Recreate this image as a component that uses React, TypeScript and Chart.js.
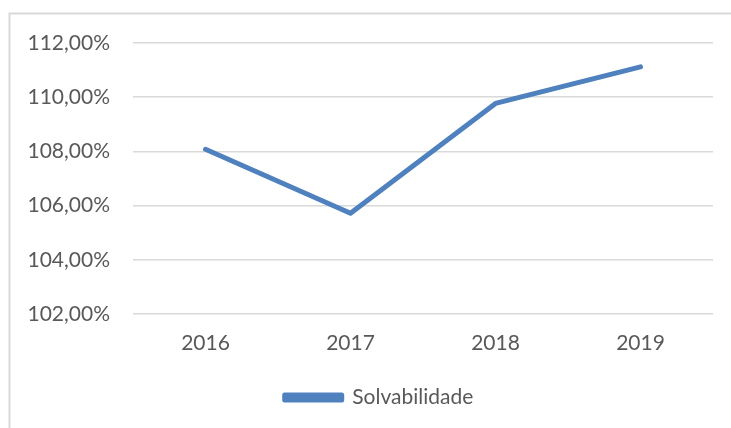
import React, { useEffect, useRef } from "react";
import { Chart, registerables } from "chart.js";

Chart.register(...registerables);

const categories = ["2016", "2017", "2018", "2019"];
const seriesName = "Solvabilidade";
const seriesValues = [108.08, 105.72, 109.77, 111.12];
const yMin = 102;
const yMax = 112;
const yStep = 2;

const FONT = "Lato, 'Liberation Sans', sans-serif";
const TEXT = "#595959";
const GRID = "#d9d9d9";
const LINE = "#4E81BD";

const frame = {
  id: "frame",
  beforeDraw(chart: any) {
    const ctx = chart.ctx;
    ctx.save();
    ctx.fillStyle = "#ffffff";
    ctx.fillRect(0, 0, chart.width, chart.height);
    ctx.strokeStyle = GRID;
    ctx.lineWidth = 2;
    ctx.beginPath();
    ctx.moveTo(9.5, chart.height);
    ctx.lineTo(9.5, 13.5);
    ctx.lineTo(chart.width, 13.5);
    ctx.stroke();
    ctx.restore();
  },
};

const legendShift = {
  id: "legendShift",
  afterLayout(chart: any) {
    const lg = chart.legend;
    if (lg) {
      lg.left += 45;
    }
  },
};

export default function App() {
  const ref = useRef<HTMLCanvasElement | null>(null);
  useEffect(() => {
    if (!ref.current) return;
    const chart = new Chart(ref.current, {
      type: "line",
      data: {
        labels: categories,
        datasets: [
          {
            label: seriesName,
            data: seriesValues,
            borderColor: LINE,
            backgroundColor: LINE,
            borderWidth: 5,
            borderCapStyle: "round",
            borderJoinStyle: "round",
            pointRadius: 0,
            tension: 0,
          },
        ],
      },
      options: {
        animation: false,
        responsive: false,
        layout: { padding: { left: 0, right: 18, top: 43, bottom: 10 } },
        plugins: {
          tooltip: { enabled: false },
          legend: {
            position: "bottom",
            labels: {
              boxWidth: 57,
              boxHeight: 5,
              padding: 13,
              color: TEXT,
              font: { family: FONT, size: 21 },
            },
          },
        },
        scales: {
          x: {
            offset: true,
            grid: { display: false },
            border: { display: false },
            ticks: { color: TEXT, padding: 9, font: { family: FONT, size: 21 }, maxRotation: 0 },
            afterFit(scale: any) {
              scale.height = 60;
            },
          },
          y: {
            min: yMin,
            max: yMax,
            border: { display: false },
            grid: { color: GRID, lineWidth: 1.5, drawTicks: false },
            ticks: {
              stepSize: yStep,
              color: TEXT,
              padding: 23,
              font: { family: FONT, size: 21 },
              callback: (v: any) => Number(v).toFixed(2).replace(".", ",") + "%",
            },
            afterFit(scale: any) {
              scale.width = 133;
            },
          },
        },
      },
      plugins: [frame, legendShift],
    });
    return () => chart.destroy();
  }, []);
  return (
    <div style={{ position: "fixed", left: 0, top: 0, width: 731, height: 428 }}>
      <canvas ref={ref} width={731} height={428} style={{ display: "block" }} />
    </div>
  );
}
